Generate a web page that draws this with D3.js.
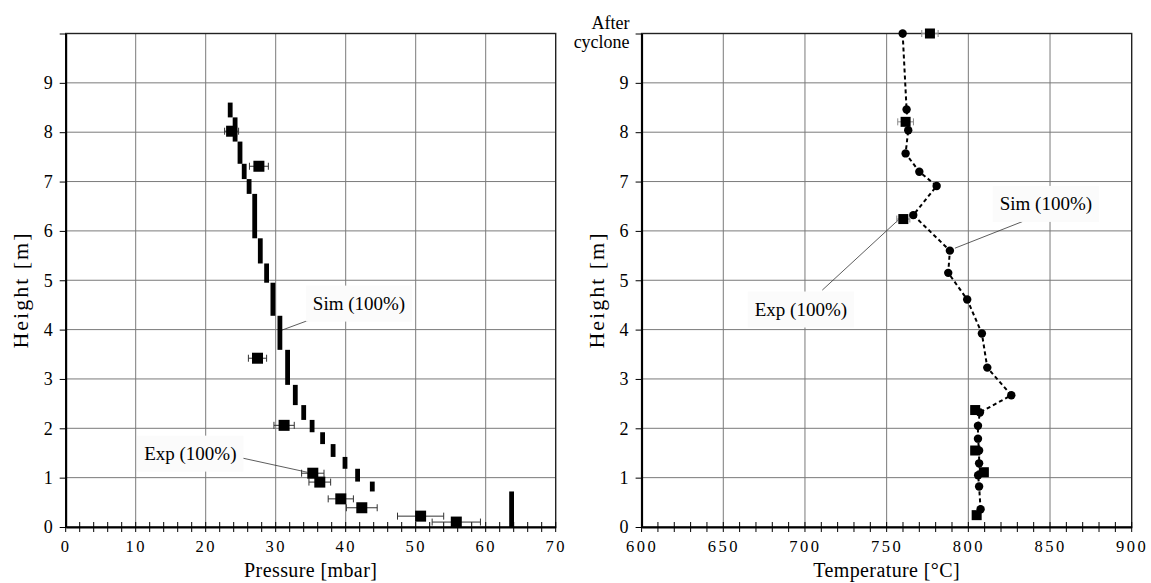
<!DOCTYPE html>
<html>
<head>
<meta charset="utf-8">
<script src="https://cdn.jsdelivr.net/npm/d3@7/dist/d3.min.js"></script>
<style>
  html, body { margin: 0; padding: 0; background: #fff; }
  svg { display: block; font-family: "Liberation Serif", "DejaVu Serif", serif; }
</style>
</head>
<body>
<svg id="chart" width="1151" height="583"></svg>
<script>
// ---- Pressure profile (left) ----
// simulated pressure, drawn as vertical segments: [pressure, bottom height, top height]
const simPressure = [23.5, 24.2, 24.9, 25.5, 26.2, 27.0, 27.8, 28.7, 29.6, 30.6, 31.7, 32.8, 34.0, 35.2, 36.7, 38.2, 39.9, 41.7, 43.8, 63.7];
const simPressureLow  = [8.30, 7.81, 7.36, 7.05, 6.75, 5.85, 5.34, 4.95, 4.28, 3.59, 2.88, 2.47, 2.17, 1.92, 1.68, 1.42, 1.18, 0.92, 0.72, 0.00];
const simPressureHigh = [8.60, 8.30, 7.81, 7.36, 7.05, 6.75, 5.85, 5.34, 4.95, 4.28, 3.59, 2.88, 2.47, 2.17, 1.92, 1.68, 1.42, 1.18, 0.92, 0.72];
// measured pressure with +/- error
const expPressure       = [23.7, 27.6, 27.4, 31.2, 35.3, 36.3, 39.3, 42.3, 50.7, 55.8];
const expPressureHeight = [8.02, 7.31, 3.42, 2.06, 1.09, 0.91, 0.57, 0.39, 0.22, 0.10];
const expPressureErr    = [1.0, 1.35, 1.3, 1.45, 1.6, 1.55, 1.8, 2.2, 3.3, 3.45];

// ---- Temperature profile (right) ----
const simTemp       = [759.8, 762.2, 763.2, 761.6, 770.0, 780.6, 766.3, 788.7, 787.7, 799.3, 808.3, 811.6, 826.3, 807.1, 805.9, 805.9, 806.6, 806.6, 806.0, 806.6, 807.5];
const simTempHeight = [10.0, 8.46, 8.04, 7.57, 7.20, 6.91, 6.32, 5.60, 5.15, 4.61, 3.92, 3.23, 2.67, 2.32, 2.05, 1.79, 1.55, 1.29, 1.05, 0.82, 0.36];
const expTemp       = [776.5, 761.6, 760.2, 804.2, 804.2, 809.5, 805.1];
const expTempHeight = [10.0, 8.21, 6.24, 2.37, 1.55, 1.11, 0.24];
const expTempErr    = [5.0, 4.8, 4.0, 2.5, 2.5, 2.5, 2.0];

// ---- axes ----
const heightTicks = [0, 1, 2, 3, 4, 5, 6, 7, 8, 9];
const pressureTicks = [0, 10, 20, 30, 40, 50, 60, 70];
const tempTicks = [600, 650, 700, 750, 800, 850, 900];
const heightTitle = "Height [m]";
const topLabel = ["After", "cyclone"];

const svg = d3.select("#chart");

const y = d3.scaleLinear().domain([0, 10]).range([527, 33.5]);
const xP = d3.scaleLinear().domain([0, 70]).range([65.7, 555.7]);
const xT = d3.scaleLinear().domain([600, 900]).range([641.6, 1131.7]);

function panel(x, majors, minorStep, xTitle, yLabelTop) {
  const g = svg.append("g");
  const [x0, x1] = x.range();
  const [y0, y1] = y.range();

  // grid
  g.selectAll(".vg").data(majors.slice(1, -1)).join("line")
    .attr("x1", d => x(d)).attr("x2", d => x(d)).attr("y1", y0).attr("y2", y1)
    .attr("stroke", "#7a7a7a").attr("stroke-width", 1);
  g.selectAll(".hg").data(heightTicks.slice(1)).join("line")
    .attr("x1", x0).attr("x2", x1).attr("y1", d => y(d)).attr("y2", d => y(d))
    .attr("stroke", "#7a7a7a").attr("stroke-width", 1);

  // frame
  g.append("rect").attr("x", x0).attr("y", y1).attr("width", x1 - x0).attr("height", y0 - y1)
    .attr("fill", "none").attr("stroke", "#222").attr("stroke-width", 1.4);

  // bottom axis with labels
  const xAxis = d3.axisBottom(x).tickValues(majors).tickSize(0).tickPadding(13)
    .tickFormat(d3.format("d"));
  const ax = g.append("g").attr("transform", `translate(0,${y0})`).call(xAxis);
  ax.select(".domain").attr("stroke", "#000").attr("stroke-width", 2);
  ax.selectAll("text").attr("font-size", 16.5).attr("font-family", "Liberation Serif")
    .attr("letter-spacing", 2.5).attr("fill", "#000");

  // minor ticks crossing the x axis
  const [d0, d1] = x.domain();
  const minors = d3.range(d0, d1 + minorStep / 2, minorStep);
  g.selectAll(".mt").data(minors).join("line")
    .attr("x1", d => x(d)).attr("x2", d => x(d)).attr("y1", y0 - 5).attr("y2", y0 + 5)
    .attr("stroke", "#000").attr("stroke-width", 1);

  // left axis
  const yAxis = d3.axisLeft(y).tickValues(heightTicks.concat([10])).tickSizeInner(6).tickSizeOuter(0)
    .tickPadding(7).tickFormat(d => d === 10 ? "" : d);
  const ay = g.append("g").attr("transform", `translate(${x0},0)`).call(yAxis);
  ay.select(".domain").attr("stroke", "#000").attr("stroke-width", 2);
  ay.selectAll("line").attr("stroke", "#000");
  ay.selectAll("text").attr("font-size", 18).attr("font-family", "Liberation Serif").attr("fill", "#000");

  if (yLabelTop) {
    g.append("text").attr("text-anchor", "end").attr("font-size", 18)
      .attr("x", x0 - 12).attr("y", 29).text(yLabelTop[0]);
    g.append("text").attr("text-anchor", "end").attr("font-size", 18)
      .attr("x", x0 - 12).attr("y", 48).text(yLabelTop[1]);
  }

  // titles
  g.append("text").attr("x", (x0 + x1) / 2).attr("y", 577).attr("text-anchor", "middle")
    .attr("font-size", 20).attr("letter-spacing", 0.4).text(xTitle);
  g.append("text").attr("transform", `translate(${x0 - 37.5},290) rotate(-90)`)
    .attr("text-anchor", "middle").attr("font-size", 22).attr("letter-spacing", 2).text(heightTitle);
  return g;
}

function annotate(g, x, label, lx, ly, sx, sy, ex, ey) {
  g.append("line").attr("x1", x(sx)).attr("y1", y(sy)).attr("x2", x(ex)).attr("y2", y(ey))
    .attr("stroke", "#333").attr("stroke-width", 0.8);
  const box = g.append("rect").attr("fill", "#fbfbfb");
  const t = g.append("text").attr("x", x(lx)).attr("y", y(ly)).attr("dy", "0.35em")
    .attr("text-anchor", "middle").attr("font-size", 19).text(label);
  const b = t.node().getBBox();
  box.attr("x", b.x - 7).attr("y", b.y - 7).attr("width", b.width + 14).attr("height", b.height + 14);
}

function errorBars(g, x, vals, hs, errs, color, cap) {
  const eb = g.append("g").attr("stroke", color).attr("stroke-width", 1);
  vals.forEach((v, i) => {
    const yy = y(hs[i]);
    eb.append("line").attr("x1", x(v - errs[i])).attr("x2", x(v + errs[i])).attr("y1", yy).attr("y2", yy);
    eb.append("line").attr("x1", x(v - errs[i])).attr("x2", x(v - errs[i])).attr("y1", yy - cap).attr("y2", yy + cap);
    eb.append("line").attr("x1", x(v + errs[i])).attr("x2", x(v + errs[i])).attr("y1", yy - cap).attr("y2", yy + cap);
  });
}

// ---------- left panel ----------
const gL = panel(xP, pressureTicks, 2, "Pressure [mbar]", null);

annotate(gL, xP, "Sim (100%)", 41.9, 4.54, 35.1, 4.21, 30.9, 3.99);
annotate(gL, xP, "Exp (100%)", 17.8, 1.50, 24.5, 1.42, 34.5, 1.11);

gL.append("g").selectAll("rect").data(simPressure).join("rect")
  .attr("x", d => xP(d) - 2.4).attr("width", 4.8)
  .attr("y", (d, i) => y(simPressureHigh[i]))
  .attr("height", (d, i) => y(simPressureLow[i]) - y(simPressureHigh[i]))
  .attr("fill", "#000");

errorBars(gL, xP, expPressure, expPressureHeight, expPressureErr, "#333", 3.5);
gL.append("g").selectAll("rect").data(expPressure).join("rect")
  .attr("x", d => xP(d) - 5.5).attr("y", (d, i) => y(expPressureHeight[i]) - 5.5)
  .attr("width", 11).attr("height", 11).attr("fill", "#000");

// ---------- right panel ----------
const gR = panel(xT, tempTicks, 10, "Temperature [°C]", topLabel);

annotate(gR, xT, "Sim (100%)", 847.5, 6.56, 833.2, 6.19, 791.8, 5.65);
annotate(gR, xT, "Exp (100%)", 697.5, 4.42, 710.6, 4.80, 757.1, 6.22);

const line = d3.line().x(d => xT(d[0])).y(d => y(d[1]));
gR.append("path").datum(simTemp.map((t, i) => [t, simTempHeight[i]]))
  .attr("d", line).attr("fill", "none").attr("stroke", "#000")
  .attr("stroke-width", 2).attr("stroke-dasharray", "4,3");

errorBars(gR, xT, expTemp, expTempHeight, expTempErr, "#8a8a8a", 3.5);
gR.append("g").selectAll("rect").data(expTemp).join("rect")
  .attr("x", d => xT(d) - 5).attr("y", (d, i) => y(expTempHeight[i]) - 5)
  .attr("width", 10).attr("height", 10).attr("fill", "#000");

gR.append("g").selectAll("circle").data(simTemp).join("circle")
  .attr("cx", d => xT(d)).attr("cy", (d, i) => y(simTempHeight[i])).attr("r", 4.2)
  .attr("fill", "#000");
</script>
</body>
</html>
